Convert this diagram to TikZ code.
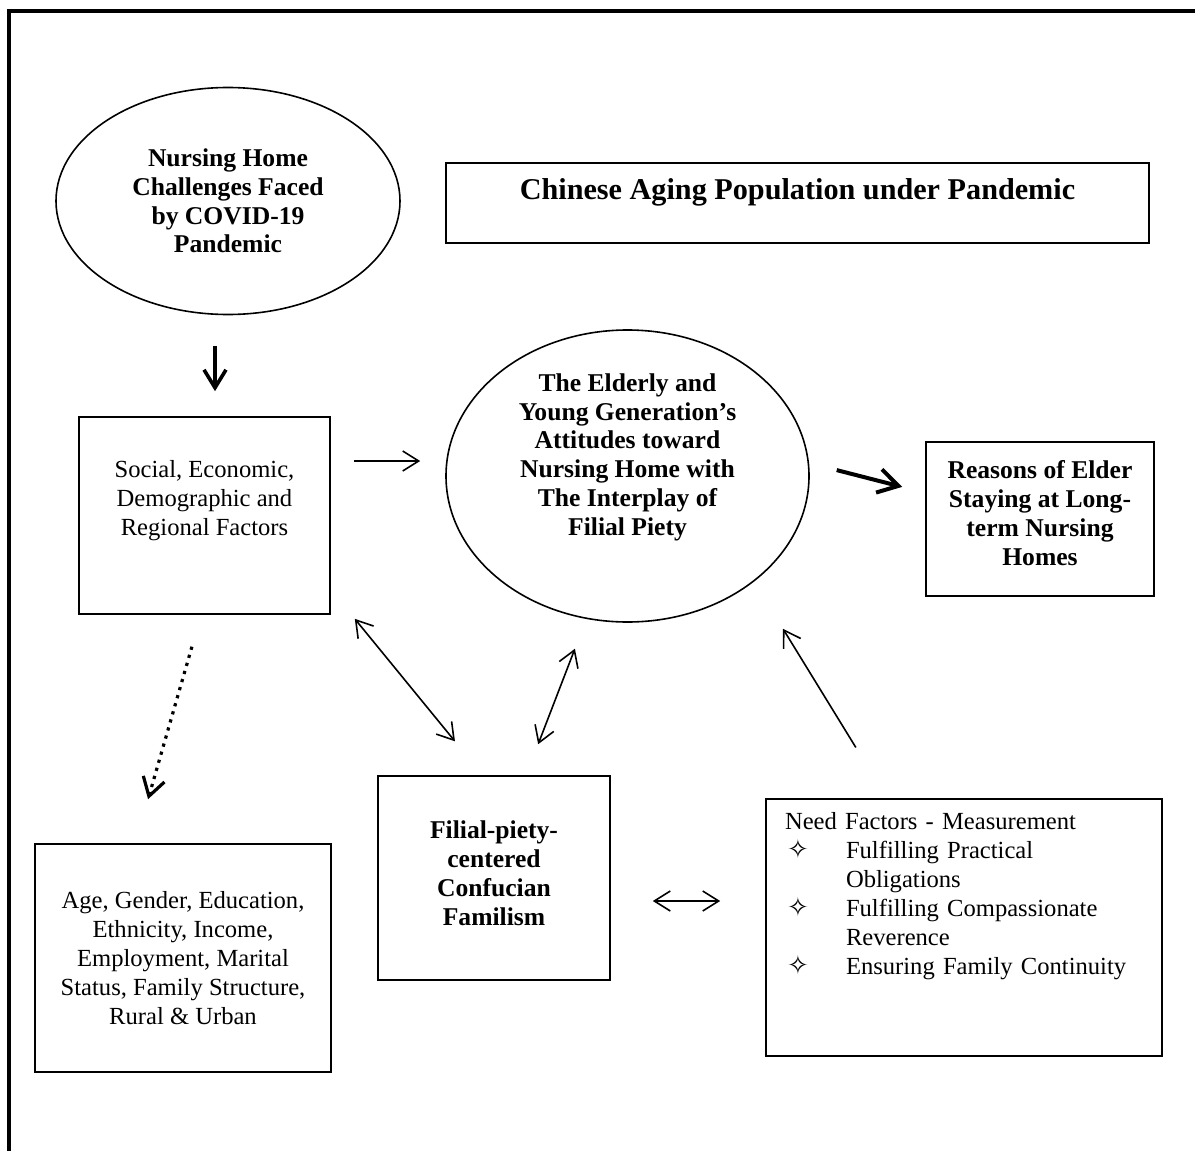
\documentclass[tikz,border=0pt]{standalone}
\usepackage{fontspec}
\setmainfont{Liberation Serif}
\newfontfamily\symfont{DejaVu Sans}
\usepackage{tikz}
\usetikzlibrary{shapes.geometric, arrows.meta}
\tikzstyle{oval} = [ellipse, draw=black, line width=0.8pt, inner sep=-12pt, align=center, font=\bfseries\fontsize{12.8}{14.4}\selectfont]
\tikzstyle{factorbox} = [rectangle, draw=black, line width=0.8pt, inner sep=0pt, align=center, font=\fontsize{12.3}{14.5}\selectfont]
\tikzstyle{boldbox} = [factorbox, font=\bfseries\fontsize{12.8}{14.5}\selectfont]
\tikzstyle{arrow} = [line width=0.8pt, -{Straight Barb[length=8pt,width=10pt]}]
\tikzstyle{dblarrow} = [line width=0.8pt, {Straight Barb[length=8pt,width=10pt]}-{Straight Barb[length=8pt,width=10pt]}]
\tikzstyle{boldarrow} = [line width=2pt, -{Straight Barb[length=10pt,width=12pt]}]
\tikzstyle{downarrow} = [line width=1.8pt, -{Straight Barb[length=9pt,width=11pt]}]
\tikzstyle{dotarrow} = [line width=1.6pt, dash pattern=on 1.6pt off 2.6pt, -{Straight Barb[length=9pt,width=11pt]}]
% extra depth under the last line, to lift the text in its shape
\newcommand{\lift}[1]{\rule[-#1]{0pt}{#1}}
\newcommand{\bul}{\makebox[30.5pt][l]{\hspace{1pt}{\symfont\fontsize{13}{13}\selectfont ✧}}}

\begin{document}
\begin{tikzpicture}[x=0.5pt, y=-0.5pt]
\useasboundingbox (0,0) rectangle (1195,1151);

% Frame
\draw [line width=1.7pt] (9,1151) -- (9,11) -- (1195,11);

% Nodes
\node (covid) [oval, minimum width=172pt, minimum height=113.5pt] at (228,201) {Nursing Home\\Challenges Faced\\by COVID-19\\Pandemic};
\node (title) [factorbox, minimum width=351.5pt, minimum height=40pt, font=\bfseries\fontsize{15.1}{18}\selectfont] at (797.5,203) {Chinese Aging Population under Pandemic\lift{13.5pt}};
\node (social) [factorbox, minimum width=125.5pt, minimum height=98.5pt] at (204.5,515.5) {Social, Economic,\\Demographic and\\Regional Factors\lift{18pt}};
\node (attitude) [oval, minimum width=181.5pt, minimum height=146pt] at (627.5,476) {The Elderly and\\Young Generation’s\\Attitudes toward\\Nursing Home with\\The Interplay of\\Filial Piety\lift{21.5pt}};
\node (reasons) [boldbox, minimum width=114pt, minimum height=77pt] at (1040,519) {Reasons of Elder\\Staying at Long-\\term Nursing\\Homes\lift{6.5pt}};
\node (familism) [boldbox, minimum width=116pt, minimum height=102pt] at (494,878) {Filial-piety-\\centered\\Confucian\\Familism\lift{4.5pt}};
\node (traits) [factorbox, minimum width=148pt, minimum height=114pt] at (183,958) {Age, Gender, Education,\\Ethnicity, Income,\\Employment, Marital\\Status, Family Structure,\\Rural \& Urban};
\node (need) [factorbox, minimum width=198pt, minimum height=128.5pt, text width=179pt, inner xsep=9.5pt, align=left] at (964,927.5) {Need Factors - Measurement\\\bul Fulfilling Practical\\\hspace*{30.5pt}Obligations\\\bul Fulfilling Compassionate\\\hspace*{30.5pt}Reverence\\\bul Ensuring Family Continuity\lift{34pt}};

% Arrows
\draw [downarrow, shorten <=15.25pt, shorten >=12.5pt] ([xshift=-6.5pt]covid.south) -- ([xshift=5.25pt]social.north);
\draw [arrow, shorten <=11.5pt, shorten >=12.5pt] ([yshift=27.25pt]social.east) -- ([yshift=7.5pt]attitude.west);
\draw [boldarrow, shorten <=13.9pt, shorten >=11.9pt] ([yshift=6.4pt]attitude.east) -- ([yshift=13.1pt]reasons.west);
\draw [dotarrow, shorten <=16.6pt, shorten >=22.9pt] ([xshift=-1.7pt]social.south) -- ([xshift=-23.8pt]traits.north);
\draw [dblarrow, shorten <=2.6pt, shorten >=21.9pt] ([xshift=10.35pt]social.south east) -- ([xshift=-5.65pt]familism.north);
\draw [dblarrow, shorten <=16.6pt, shorten >=13.9pt] ([xshift=16.1pt]familism.north) -- ([xshift=-21.3pt]attitude.south);
\draw [arrow, shorten <=29.8pt, shorten >=3.5pt] ([xshift=-38.5pt]need.north) -- ([xshift=75.9pt]attitude.south);
\draw [dblarrow, shorten <=21pt, shorten >=22.5pt] ([yshift=-11.5pt]familism.east) -- ([yshift=13.25pt]need.west);

\end{tikzpicture}
\end{document}
